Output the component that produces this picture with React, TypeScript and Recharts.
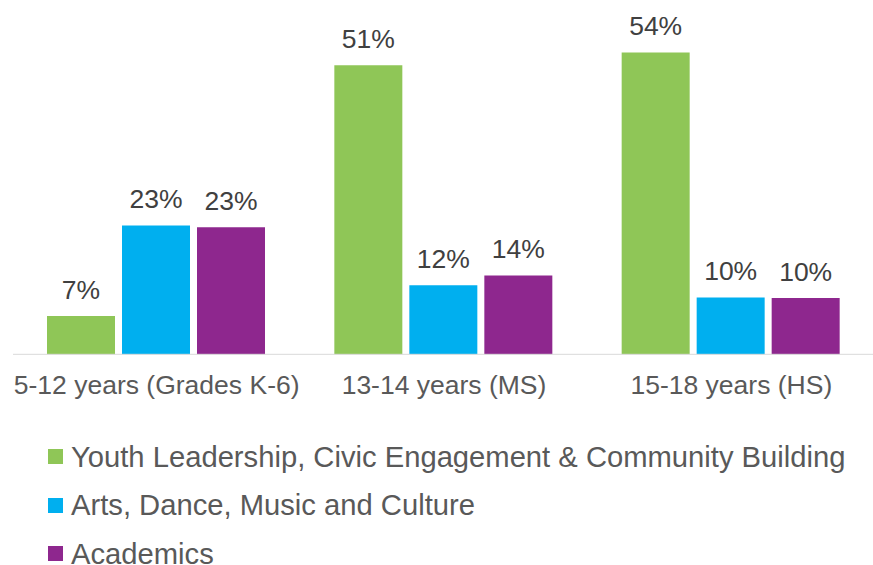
import React from 'react';
import { BarChart, Bar, XAxis, YAxis, Legend, LabelList } from 'recharts';

const categories = ['5-12 years (Grades K-6)', '13-14 years (MS)', '15-18 years (HS)'];
const youthLeadership = [0.068, 0.514, 0.537];
const arts = [0.229, 0.123, 0.101];
const academics = [0.226, 0.140, 0.100];

const seriesNames = [
  'Youth Leadership, Civic Engagement & Community Building',
  'Arts, Dance, Music and Culture',
  'Academics',
];
const seriesColors = ['#8FC657', '#00AFEF', '#8E278E'];

const data = categories.map((c, i) => ({
  name: c,
  youth: youthLeadership[i],
  arts: arts[i],
  academics: academics[i],
}));

const FONT = '"Liberation Sans", Arial, sans-serif';

const fmt = (v: any) => `${Math.round(Number(v) * 100)}%`;

const renderLegend = () => {
  return (
    <div style={{ height: 145.5, fontFamily: FONT }}>
      {seriesNames.map((name, i) => (
        <div
          key={i}
          style={{ display: 'flex', alignItems: 'center', height: 48.5 }}
        >
          <span
            style={{
              display: 'inline-block',
              width: 15,
              height: 15,
              background: seriesColors[i],
              marginRight: 8,
              flexShrink: 0,
            }}
          />
          <span style={{ fontSize: 29.2, lineHeight: '22px', color: '#595959', whiteSpace: 'nowrap' }}>
            {name}
          </span>
        </div>
      ))}
    </div>
  );
};

const labelStyle = { fill: '#404040', fontSize: 26.5, fontFamily: FONT };

export default function App() {
  return (
    <div style={{ position: 'absolute', left: 0, top: 0, width: 873, height: 565, background: '#fff', overflow: 'hidden' }}>
      <BarChart
        width={873}
        height={565}
        data={data}
        margin={{ top: 17, right: -2, left: 13, bottom: 35.2 }}
        barCategoryGap={34}
        barGap={7}
        style={{ fontFamily: FONT }}
      >
        <XAxis
          dataKey="name"
          interval={0}
          tickLine={false}
          tickSize={0}
          tickMargin={21}
          height={30}
          axisLine={{ stroke: '#D9D9D9', strokeWidth: 1 }}
          tick={{ fill: '#595959', fontSize: 26.5, fontFamily: FONT }}
        />
        <YAxis hide domain={[0, 0.6]} />
        <Legend
          layout="horizontal"
          verticalAlign="bottom"
          align="left"
          content={renderLegend}
          wrapperStyle={{ top: 432.25, bottom: 'auto', left: 48 }}
        />
        <Bar dataKey="youth" name={seriesNames[0]} fill={seriesColors[0]} isAnimationActive={false}>
          <LabelList dataKey="youth" position="top" offset={17.5} formatter={fmt} style={labelStyle} />
        </Bar>
        <Bar dataKey="arts" name={seriesNames[1]} fill={seriesColors[1]} isAnimationActive={false}>
          <LabelList dataKey="arts" position="top" offset={17.5} formatter={fmt} style={labelStyle} />
        </Bar>
        <Bar dataKey="academics" name={seriesNames[2]} fill={seriesColors[2]} isAnimationActive={false}>
          <LabelList dataKey="academics" position="top" offset={17.5} formatter={fmt} style={labelStyle} />
        </Bar>
      </BarChart>
    </div>
  );
}
